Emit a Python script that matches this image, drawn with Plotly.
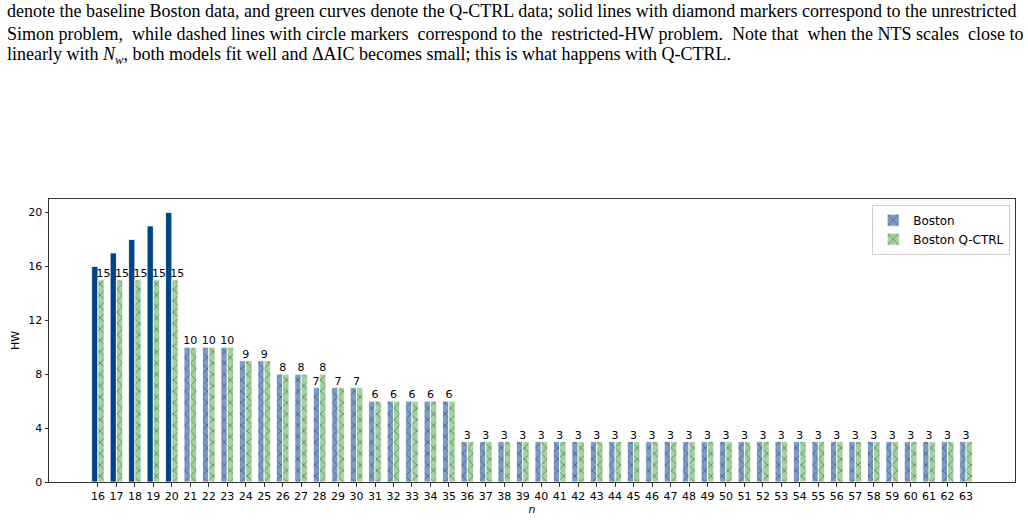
import plotly.graph_objects as go

n_values = list(range(16, 64))
boston = [16, 17, 18, 19, 20, 10, 10, 10, 9, 9, 8, 8, 7, 7, 7, 6, 6, 6, 6, 6] + [3] * 28
qctrl = [15, 15, 15, 15, 15, 10, 10, 10, 9, 9, 8, 8, 8, 7, 7, 6, 6, 6, 6, 6] + [3] * 28
y_ticks = [0, 4, 8, 12, 16, 20]

NB = "\u00a0"
caption_lines = [
    "denote the baseline Boston data, and green curves denote the Q-CTRL data; solid lines with diamond markers correspond to the unrestricted",
    "Simon problem," + NB + " while dashed lines with circle markers" + NB + " correspond to the" + NB + " restricted-HW problem.  Note that" + NB + " when the NTS scales" + NB + " close to",
    "linearly with <i>N<sub>w</sub></i>, both models fit well and \u0394AIC becomes small; this is what happens with Q-CTRL.",
]

W = 0.34
BLUE_SOLID = "#004488"
BLUE_LIGHT = "#7b9cc6"
GREEN_LIGHT = "#a3d39c"
HATCH = "rgba(30,30,30,0.85)"

fig = go.Figure()

solid_x = [n for n, b, q in zip(n_values, boston, qctrl) if b > q]
solid_y = [b for n, b, q in zip(n_values, boston, qctrl) if b > q]
hatch_x = [n for n, b, q in zip(n_values, boston, qctrl) if b <= q]
hatch_y = [b for n, b, q in zip(n_values, boston, qctrl) if b <= q]

fig.add_trace(go.Bar(
    x=hatch_x, y=hatch_y, width=W, offset=-W, name="Boston",
    marker=dict(color=BLUE_LIGHT, line=dict(color="white", width=0.8),
                pattern=dict(shape="x", fgcolor=HATCH, size=8, solidity=0.22)),
))
fig.add_trace(go.Bar(
    x=solid_x, y=solid_y, width=W, offset=-W, name="Boston", showlegend=False,
    marker=dict(color=BLUE_SOLID, line=dict(color="white", width=0.8)),
))
fig.add_trace(go.Bar(
    x=n_values, y=qctrl, width=W, offset=0, name="Boston Q-CTRL",
    marker=dict(color=GREEN_LIGHT, line=dict(color="white", width=0.8),
                pattern=dict(shape="x", fgcolor=HATCH, size=8, solidity=0.22)),
))

# value labels
lx, ly, lt = [], [], []
for n, b, q in zip(n_values, boston, qctrl):
    if b == q:
        lx.append(n); ly.append(q); lt.append(str(q))
    elif b > q:
        lx.append(n + 0.3); ly.append(q); lt.append(str(q))
    else:
        lx.append(n - 0.19); ly.append(b); lt.append(str(b))
        lx.append(n + 0.17); ly.append(q); lt.append(str(q))
fig.add_trace(go.Scatter(
    x=lx, y=ly, mode="text", text=lt, textposition="top center",
    textfont=dict(family="DejaVu Sans", size=11, color="black"),
    showlegend=False, hoverinfo="skip",
))

# caption text above the chart
line_y = [7, 30, 52]
for txt, yp in zip(caption_lines, line_y):
    fig.add_annotation(
        text=txt, xref="paper", yref="paper",
        x=(5 - 49) / 966, y=(488 - yp) / 289,
        xanchor="left", yanchor="middle", showarrow=False,
        font=dict(family="Liberation Serif", size=18, color="black"),
    )

fig.update_layout(
    width=1028, height=524,
    margin=dict(l=49, r=13, t=199, b=36),
    paper_bgcolor="white", plot_bgcolor="white",
    barmode="overlay",
    font=dict(family="DejaVu Sans", size=11, color="black"),
    legend=dict(x=0.995, y=0.98, xanchor="right", yanchor="top",
                bgcolor="white", bordercolor="#d0d0d0", borderwidth=1,
                font=dict(size=12), tracegroupgap=0),
    xaxis=dict(range=[13.35, 65.65], tickmode="array", tickvals=n_values,
               ticktext=[str(v) for v in n_values], showgrid=False, zeroline=False,
               showline=True, linecolor="#333", linewidth=1, mirror=True,
               ticks="outside", ticklen=3.5, tickcolor="#333",
               title=dict(text="<i>n</i>", standoff=2, font=dict(size=11))),
    yaxis=dict(range=[0, 21], tickmode="array", tickvals=y_ticks, showgrid=False,
               zeroline=False, showline=True, linecolor="#333", linewidth=1, mirror=True,
               ticks="outside", ticklen=3.5, tickcolor="#333",
               title=dict(text="HW", standoff=6, font=dict(size=11))),
)

fig.write_html("out.html")
